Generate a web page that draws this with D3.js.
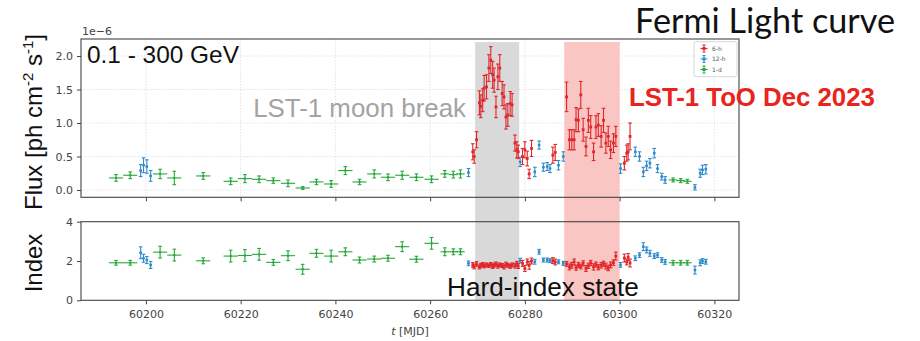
<!DOCTYPE html>
<html>
<head>
<meta charset="utf-8">
<script src="https://cdn.jsdelivr.net/npm/d3@7"></script>
<style>
body{margin:0;background:#fff}
svg{display:block}
.tick text{font-family:"DejaVu Sans",sans-serif;fill:#444}
.tick line{stroke:#444}
</style>
</head>
<body>
<div id="chart"></div>
<script>
// 6-h bins (red)
var redT = [60269.0,60269.3,60269.8,60270.4,60270.7,60271.1,60271.4,60271.9,60272.4,60272.8,60273.2,60273.5,60273.9,60274.3,60274.7,60275.2,60275.6,60276.0,60276.4,60276.9,60277.3,60277.9,60278.3,60278.6,
  60279.5,60280.0,60280.5,60280.9,60281.4,60285.9,60286.4,
  60288.8,60289.4,60289.9,60290.4,60290.8,60291.3,60291.8,60292.3,60292.9,60293.4,60293.9,60294.5,60295.0,60295.5,60296.1,60296.6,60297.1,60297.6,60298.1,60298.7,60299.2,
  60301.0,60301.5,60301.8,60302.2];
var redFlux = [0.57,0.50,0.75,1.30,1.25,1.34,1.52,1.54,1.82,1.94,1.72,1.64,1.24,1.69,1.82,1.44,1.39,1.09,1.12,1.29,1.27,0.70,0.60,0.57,
  0.50,0.60,0.47,0.24,0.62,0.52,0.56,
  1.39,0.75,0.75,0.75,1.05,1.04,1.42,0.90,0.65,1.04,0.94,0.57,0.94,0.97,0.80,1.04,0.70,0.80,0.60,0.70,0.80,
  0.40,0.55,0.57,0.80];
var redFluxErr = [0.12,0.10,0.12,0.18,0.17,0.17,0.19,0.18,0.20,0.20,0.20,0.18,0.16,0.19,0.20,0.18,0.18,0.18,0.17,0.18,0.17,0.12,0.12,0.10,
  0.12,0.12,0.11,0.07,0.12,0.12,0.12,
  0.22,0.15,0.15,0.15,0.18,0.17,0.20,0.17,0.14,0.18,0.17,0.13,0.17,0.17,0.16,0.18,0.15,0.15,0.13,0.14,0.15,
  0.10,0.12,0.12,0.20];
var redIndex = [1.80,1.72,1.85,1.70,1.78,1.82,1.75,1.80,1.76,1.83,1.72,1.79,1.85,1.74,1.81,1.77,1.70,1.84,1.78,1.73,1.80,1.76,1.86,1.74,
  1.88,1.62,1.95,1.78,2.00,2.02,1.95,
  1.85,1.70,1.78,1.95,1.66,1.80,1.72,1.88,1.62,1.76,1.90,1.70,1.82,1.68,1.78,1.86,1.74,1.65,1.80,1.92,2.25,
  2.15,1.95,2.20,1.90];
var redIndexErr = [0.12,0.12,0.12,0.10,0.10,0.10,0.10,0.10,0.09,0.09,0.10,0.10,0.10,0.10,0.09,0.10,0.10,0.10,0.10,0.10,0.10,0.12,0.12,0.12,
  0.15,0.15,0.15,0.20,0.15,0.15,0.15,
  0.12,0.15,0.15,0.15,0.13,0.13,0.12,0.13,0.15,0.13,0.13,0.16,0.13,0.13,0.14,0.13,0.15,0.14,0.15,0.14,0.20,
  0.20,0.15,0.18,0.20];

// 12-h bins (blue)
var blueT = [60198.9,60199.5,60200.2,60201.0,60268.1,60279.0,60282.1,60283.0,60283.9,60284.7,60285.3,60287.1,60288.1,
  60300.2,60303.3,60304.2,60305.0,60305.7,60306.4,60307.3,60308.0,60308.9,60309.6,60315.9,60317.0,60317.5,60318.2];
var blueFlux = [0.29,0.37,0.35,0.21,0.26,0.42,0.27,0.67,0.34,0.35,0.32,0.37,0.50,
  0.32,0.57,0.50,0.27,0.36,0.40,0.55,0.32,0.20,0.15,0.04,0.25,0.30,0.31];
var blueFluxErr = [0.09,0.11,0.10,0.08,0.06,0.07,0.07,0.06,0.06,0.06,0.06,0.07,0.07,
  0.07,0.07,0.07,0.07,0.07,0.07,0.07,0.06,0.05,0.05,0.04,0.06,0.07,0.07];
var blueIndex = [2.42,2.14,2.05,1.80,1.88,2.02,1.96,2.47,2.05,2.05,2.02,1.96,1.88,
  1.80,2.14,2.30,2.73,2.56,2.39,2.25,2.30,2.05,1.95,1.54,1.91,2.00,1.96];
var blueIndexErr = [0.30,0.20,0.18,0.18,0.12,0.12,0.12,0.12,0.10,0.10,0.10,0.10,0.10,
  0.12,0.12,0.12,0.20,0.15,0.15,0.12,0.12,0.12,0.12,0.20,0.15,0.12,0.12];

// 1-d bins (green)
var greenT = [60193.7,60196.7,60203.0,60206.0,60212.1,60217.9,60220.9,60223.9,60226.9,60230.0,60233.1,60236.0,60239.1,
  60242.1,60245.1,60248.2,60251.1,60254.1,60257.1,60260.3,60263.1,60264.9,60266.4,60311.3,60312.9,60314.3];
var greenWidth = [1.5,1.5,1.5,1.5,1.5,1.5,1.5,1.5,1.5,1.5,1.5,1.5,1.5,
  1.5,1.5,1.5,1.5,1.5,1.5,1.5,0.9,0.9,0.9,0.9,0.9,0.9];
var greenFlux = [0.18,0.22,0.24,0.18,0.21,0.13,0.17,0.16,0.14,0.10,0.03,0.12,0.09,
  0.29,0.12,0.24,0.19,0.22,0.19,0.16,0.24,0.23,0.24,0.15,0.14,0.13];
var greenFluxErr = [0.05,0.05,0.07,0.10,0.05,0.05,0.06,0.05,0.04,0.05,0.02,0.04,0.05,
  0.06,0.04,0.06,0.05,0.06,0.05,0.05,0.05,0.05,0.06,0.03,0.03,0.03];
var greenIndex = [1.91,1.91,2.45,2.30,2.01,2.25,2.28,2.34,1.93,2.27,1.58,2.39,2.25,
  2.47,2.05,2.10,2.14,2.73,2.09,2.90,2.47,2.47,2.47,1.91,1.91,1.91];
var greenIndexErr = [0.12,0.12,0.30,0.30,0.15,0.30,0.30,0.30,0.15,0.25,0.25,0.20,0.30,
  0.20,0.15,0.15,0.15,0.25,0.15,0.30,0.20,0.15,0.15,0.12,0.12,0.12];

var xTicks = [60200,60220,60240,60260,60280,60300,60320];
var fluxTicks = [0,0.5,1,1.5,2];
var indexTicks = [0,2,4];
var moonBreak = [60269.5,60278.8];
var tooWindow = [60288.3,60300.0];

var red = "#e0262a", blue = "#2f8bcc", green = "#25a83a";

var svg = d3.select("#chart").append("svg").attr("width",920).attr("height",341);

var x = d3.scaleLinear().domain([60186.3,60325.2]).range([81,739]);
var yF = d3.scaleLinear().domain([-0.109,2.254]).range([197.3,39]);
var yI = d3.scaleLinear().domain([0,4]).range([300.3,221.7]);

// grid (top panel only)
var grid = svg.append("g");
grid.selectAll(".gx").data(xTicks).enter().append("line")
  .attr("x1",d=>x(d)).attr("x2",d=>x(d)).attr("y1",39).attr("y2",197.3)
  .attr("stroke","#e4e4e4").attr("stroke-dasharray","1.5,1.5");
grid.selectAll(".gy").data(fluxTicks).enter().append("line")
  .attr("x1",81).attr("x2",739).attr("y1",d=>yF(d)).attr("y2",d=>yF(d))
  .attr("stroke","#e4e4e4").attr("stroke-dasharray","1.5,1.5");

// shaded windows
svg.append("rect").attr("x",x(moonBreak[0])).attr("width",x(moonBreak[1])-x(moonBreak[0]))
  .attr("y",42).attr("height",300.3-42).attr("fill","#d9d9d9");
svg.append("rect").attr("x",x(tooWindow[0])).attr("width",x(tooWindow[1])-x(tooWindow[0]))
  .attr("y",42).attr("height",300.3-42).attr("fill","#f9c6c3");

// axes
var axTop = svg.append("g").attr("transform","translate(0,197.3)")
  .call(d3.axisBottom(x).tickValues(xTicks).tickSize(4).tickFormat(""));
var axBot = svg.append("g").attr("transform","translate(0,300.3)")
  .call(d3.axisBottom(x).tickValues(xTicks).tickSize(4).tickPadding(6).tickFormat(d3.format("d")));
axBot.selectAll("text").style("font-size","11px");
var ayF = svg.append("g").attr("transform","translate(81,0)")
  .call(d3.axisLeft(yF).tickValues(fluxTicks).tickSize(4).tickPadding(4).tickFormat(d3.format(".1f")));
ayF.selectAll("text").style("font-size","11px");
var ayI = svg.append("g").attr("transform","translate(81,0)")
  .call(d3.axisLeft(yI).tickValues(indexTicks).tickSize(4).tickPadding(4).tickFormat(d3.format("d")));
ayI.selectAll("text").style("font-size","11px");
svg.selectAll(".domain").remove();

svg.append("rect").attr("x",81).attr("y",39).attr("width",658).attr("height",158.3)
  .attr("fill","none").attr("stroke","#444").attr("stroke-width",1.1);
svg.append("rect").attr("x",81).attr("y",221.7).attr("width",658).attr("height",78.6)
  .attr("fill","none").attr("stroke","#444").attr("stroke-width",1.1);

function drawSeries(yScale, T, V, E, XE, color, ms){
  var g = svg.append("g").attr("stroke",color).attr("stroke-width",1.1).attr("fill",color);
  T.forEach(function(t,i){
    var cx = x(t), cy = yScale(V[i]), y0 = yScale(V[i]-E[i]), y1 = yScale(V[i]+E[i]);
    g.append("line").attr("x1",x(t-XE[i])).attr("x2",x(t+XE[i])).attr("y1",cy).attr("y2",cy);
    g.append("line").attr("x1",cx).attr("x2",cx).attr("y1",y0).attr("y2",y1);
    g.append("line").attr("x1",cx-1.8).attr("x2",cx+1.8).attr("y1",y0).attr("y2",y0);
    g.append("line").attr("x1",cx-1.8).attr("x2",cx+1.8).attr("y1",y1).attr("y2",y1);
    if(ms>0) g.append("rect").attr("x",cx-ms/2).attr("y",cy-ms/2).attr("width",ms).attr("height",ms).attr("stroke","none");
  });
}
function fill(n,v){ return d3.range(n).map(()=>v); }

drawSeries(yF, greenT, greenFlux, greenFluxErr, greenWidth, green, 2);
drawSeries(yF, blueT, blueFlux, blueFluxErr, fill(blueT.length,0.25), blue, 2.5);
drawSeries(yF, redT, redFlux, redFluxErr, fill(redT.length,0.125), red, 2.8);
drawSeries(yI, greenT, greenIndex, greenIndexErr, greenWidth, green, 2);
drawSeries(yI, blueT, blueIndex, blueIndexErr, fill(blueT.length,0.25), blue, 2.5);
drawSeries(yI, redT, redIndex, redIndexErr, fill(redT.length,0.125), red, 2.8);

// legend
var lg = svg.append("g");
lg.append("rect").attr("x",694).attr("y",41.7).attr("width",43).attr("height",35).attr("rx",2)
  .attr("fill","#fff").attr("fill-opacity",0.85).attr("stroke","#ccc").attr("stroke-width",0.8);
[["6-h",red],["12-h",blue],["1-d",green]].forEach(function(d,i){
  var ly = 48.5 + i*10.5, lx = 704;
  var e = lg.append("g").attr("stroke",d[1]).attr("fill",d[1]);
  e.append("line").attr("x1",lx-3.5).attr("x2",lx+3.5).attr("y1",ly).attr("y2",ly);
  e.append("line").attr("x1",lx).attr("x2",lx).attr("y1",ly-3.5).attr("y2",ly+3.5);
  e.append("line").attr("x1",lx-1.5).attr("x2",lx+1.5).attr("y1",ly-3.5).attr("y2",ly-3.5);
  e.append("line").attr("x1",lx-1.5).attr("x2",lx+1.5).attr("y1",ly+3.5).attr("y2",ly+3.5);
  e.append("rect").attr("x",lx-1.5).attr("y",ly-1.5).attr("width",3).attr("height",3).attr("stroke","none");
  lg.append("text").attr("x",712).attr("y",ly+2).text(d[0])
    .style("font-family","DejaVu Sans").style("font-size","6px").attr("fill","#555");
});

// text annotations
function fitWidth(t, w){
  var fs = parseFloat(t.style("font-size"));
  var cur = t.node().getComputedTextLength();
  t.style("font-size",(fs*w/cur).toFixed(2)+"px");
}
var helv = "'Liberation Sans',Arial,Helvetica,sans-serif";

svg.append("text").attr("x",82).attr("y",35).text("1e\u22126")
  .style("font-family","DejaVu Sans").style("font-size","11px").attr("fill","#444");

var t1 = svg.append("text").attr("x",87).attr("y",63.3).text("0.1 - 300 GeV")
  .style("font-family",helv).style("font-size","24px").attr("fill","#111");
fitWidth(t1,152);

var t2 = svg.append("text").attr("x",466).attr("y",117.3).attr("text-anchor","end").text("LST-1 moon break")
  .style("font-family",helv).style("font-size","26px").attr("fill","#a3a3a3");
fitWidth(t2,213);

var t3 = svg.append("text").attr("x",629).attr("y",106).text("LST-1 ToO Dec 2023")
  .style("font-family",helv).style("font-weight","bold").style("font-size","24px").attr("fill","#e8241c");
fitWidth(t3,246);

var t4 = svg.append("text").attr("x",447).attr("y",296).text("Hard-index state")
  .style("font-family",helv).style("font-size","25px").attr("fill","#111");
fitWidth(t4,192);

var t5 = svg.append("text").attr("x",895).attr("y",33).attr("text-anchor","end").text("Fermi Light curve")
  .style("font-family","Lato,'Open Sans',sans-serif").style("font-size","30px").attr("fill","#111");
fitWidth(t5,260);

// axis titles
var fl = svg.append("text").attr("transform","translate(42,122) rotate(-90)").attr("text-anchor","middle")
  .style("font-family",helv).style("font-size","24px").attr("fill","#111");
fl.append("tspan").text("Flux [ph cm");
fl.append("tspan").attr("dy",-9).style("font-size","15px").text("-2");
fl.append("tspan").attr("dy",9).text(" s");
fl.append("tspan").attr("dy",-9).style("font-size","15px").text("-1");
fl.append("tspan").attr("dy",9).text("]");

svg.append("text").attr("transform","translate(42,263) rotate(-90)").attr("text-anchor","middle")
  .style("font-family",helv).style("font-size","24px").attr("fill","#111").text("Index");

var xl = svg.append("text").attr("x",410).attr("y",335).attr("text-anchor","middle")
  .style("font-family","DejaVu Sans").style("font-size","11px").attr("fill","#444");
xl.append("tspan").style("font-style","italic").text("t");
xl.append("tspan").text(" [MJD]");
</script>
</body>
</html>
